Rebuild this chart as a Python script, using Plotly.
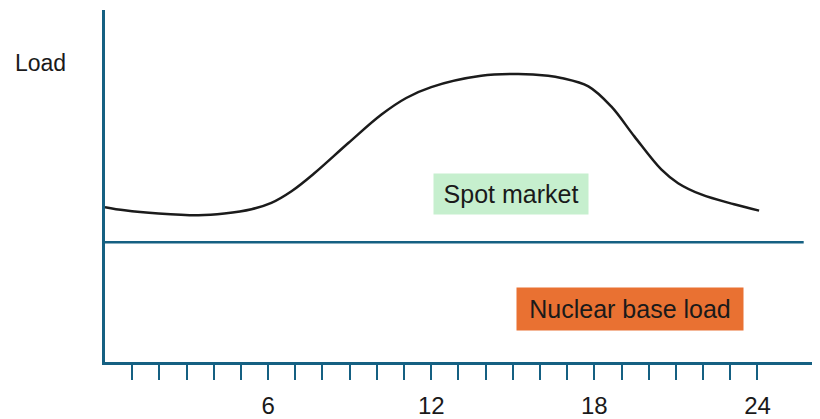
import plotly.graph_objects as go

# Data
hours = [0.0, 0.72, 1.97, 3.44, 4.39, 5.39, 6.12, 6.86, 7.70, 8.95, 10.17, 11.08,
         12.0, 13.84, 15.2, 16.3, 16.78, 17.78, 18.62, 19.47, 20.46, 21.08, 21.93,
         23.14, 24.06]
load = [44.0, 43.1, 42.2, 41.7, 42.2, 43.4, 45.2, 48.5, 53.6, 62.2, 70.3, 75.0,
        78.1, 81.3, 81.8, 81.3, 80.7, 78.3, 72.6, 64.1, 54.7, 50.8, 47.6,
        44.8, 43.0]
base_x = [0, 25.7]
base_level = [34, 34]
tick_hours = list(range(1, 25))
tick_labels = [str(h) if h % 6 == 0 else "" for h in tick_hours]

AXIS = "#156082"
FONT = "Liberation Sans, Arial, sans-serif"

fig = go.Figure()
fig.add_trace(go.Scatter(x=base_x, y=base_level, mode="lines",
                         line=dict(color=AXIS, width=2.5), hoverinfo="skip"))
fig.add_trace(go.Scatter(x=hours, y=load, mode="lines",
                         line=dict(color="#1b1b1b", width=2.5, shape="spline", smoothing=1.0),
                         hoverinfo="skip"))

fig.add_annotation(x=14.93, y=47.6, xref="x", yref="y", text="Spot market",
                   showarrow=False, bgcolor="#c6efce", width=154, height=40,
                   borderpad=0, font=dict(family=FONT, size=25, color="#1a1a1a"))
fig.add_annotation(x=19.3, y=15.1, xref="x", yref="y", text="Nuclear base load",
                   showarrow=False, bgcolor="#e97132", width=226, height=42,
                   borderpad=0, font=dict(family=FONT, size=25, color="#1a1a1a"))
fig.add_annotation(x=-0.0908, y=0.85, xref="paper", yref="paper", text="Load",
                   xanchor="center", yanchor="middle",
                   showarrow=False, font=dict(family=FONT, size=23, color="#1a1a1a"))

fig.update_layout(
    width=812, height=411,
    margin=dict(l=97, r=0, t=2, b=49),
    paper_bgcolor="white", plot_bgcolor="white",
    showlegend=False,
    xaxis=dict(range=[0, 26.3], showgrid=False, zeroline=False,
               showline=True, linecolor=AXIS, linewidth=3,
               tickmode="array", tickvals=tick_hours, ticktext=tick_labels,
               ticks="outside", ticklen=15, tickwidth=2, tickcolor=AXIS,
               ticklabelstandoff=5,
               tickfont=dict(family=FONT, size=24, color="#1a1a1a")),
    yaxis=dict(range=[0, 100], showgrid=False, zeroline=False,
               showline=True, linecolor=AXIS, linewidth=3,
               showticklabels=False, ticks=""),
)

fig.write_html("out.html")
